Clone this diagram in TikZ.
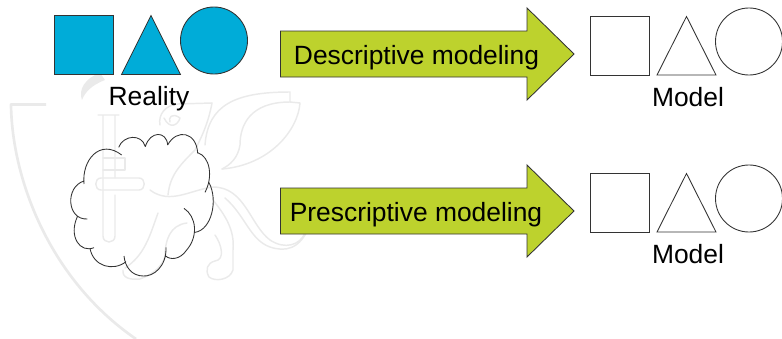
\documentclass[tikz,border=0pt]{standalone}
\usepackage{fontspec}
\setmainfont{Liberation Sans}
\definecolor{shapeblue}{HTML}{00ACD8}
\definecolor{arrowgreen}{HTML}{BDD22D}
\definecolor{wm}{HTML}{EAEAEA}
\definecolor{ink}{HTML}{333333}
\tikzset{
  x=0.75pt,y=-0.75pt,
  outline/.style={draw=ink,line width=0.65pt,line join=miter},
  bluefill/.style={outline,fill=shapeblue},
  bigarrow/.style={outline,fill=arrowgreen},
  blank/.style={outline,fill=white},
  mark line/.style={draw=wm,line width=1.1pt,line cap=round,line join=round},
  mark band/.style={draw=wm,line width=2pt,line join=round},
  lab/.style={font=\fontsize{19.8pt}{22pt}\selectfont,text=black,inner sep=0pt,anchor=base},
}
\begin{document}
\begin{tikzpicture}
\useasboundingbox (0,0) rectangle (782,339);
% watermark: shield
\draw[mark band] (46,104.5) -- (11,104.5) .. controls (12,180) and (50,280) .. (136,339);
% watermark: sword
\draw[mark line] (98,115) -- (119,115) (103,115) -- (103,236) .. controls (103,244) and (115,244) .. (115,236) -- (115,195)
  (115,178) -- (115,115);
\draw[mark line] (101,178) -- (139,178) .. controls (146,178) and (146,190) .. (139,190) -- (101,190) .. controls (94,190) and (94,178) .. (101,178);
\draw[mark line] (103,158) -- (125,158) -- (125,170) -- (103,170);
% watermark: flame
\fill[wm] (100,73) .. controls (85,78) and (78,90) .. (82,100) .. controls (85,92) and (92,85) .. (105,80) -- cycle;
% watermark: griffin head and neck
\draw[mark line] (160,125) .. controls (158,115) and (165,105) .. (178,104) -- (212,103)
  (164,118) .. controls (170,130) and (178,125) .. (180,118) .. controls (172,112) and (168,118) .. (170,122);
\draw[mark line] (212,103) .. controls (208,125) and (200,140) .. (195,150) .. controls (180,165) and (170,175) .. (168,195);
% watermark: wing
\draw[mark line] (205,145) .. controls (208,105) and (235,92) .. (290,92) -- (290,102) -- (300,103)
  .. controls (298,130) and (270,165) .. (222,169);
\draw[mark line] (290,102) .. controls (250,102) and (240,125) .. (240,145) .. controls (238,158) and (230,165) .. (222,169);
% watermark: body and tail
\draw[mark line] (150,190) .. controls (170,205) and (190,190) .. (213,187) .. controls (245,187) and (250,225) .. (270,240)
  .. controls (285,250) and (300,245) .. (305,233);
\draw[mark line] (225,198) .. controls (245,215) and (250,240) .. (270,247) .. controls (285,252) and (300,250) .. (310,225);
% watermark: legs
\draw[mark line] (187,223) .. controls (170,225) and (165,240) .. (165,257) .. controls (160,270) and (150,275) .. (140,279)
  .. controls (130,280) and (122,278) .. (123,270);
\draw[mark line] (158,213) .. controls (150,235) and (145,255) .. (125,268);
\draw[mark line] (213,200) .. controls (225,215) and (235,230) .. (233,250) -- (233,270) .. controls (230,280) and (215,282) .. (209,277)
  .. controls (205,270) and (207,263) .. (215,261) .. controls (225,260) and (222,245) .. (215,235);
% reality shapes
\draw[bluefill] (54,15.5) rectangle (113.5,74.5);
\draw[bluefill] (151,15.5) -- (180.5,74.5) -- (121.5,74.5) -- cycle;
\draw[bluefill] (214,40.5) circle [radius=33.5];
\node[lab] (reality) at (149,105) {Reality};
% cloud
\begin{scope}[x=0.25pt,y=-0.25pt]
\draw[outline,line join=round]
 (252,552) .. controls (245,480) and (300,415) .. (365,465)
 (356,442) .. controls (370,405) and (425,400) .. (436,440)
 (436,440) .. controls (450,392) and (500,392) .. (503,435)
 (503,435) .. controls (530,385) and (590,395) .. (593,460)
 (593,458) .. controls (630,470) and (640,530) .. (615,577)
 (627,548) .. controls (655,600) and (635,690) .. (585,697)
 (552,625) .. controls (590,650) and (595,710) .. (560,750) .. controls (540,780) and (510,780) .. (497,768)
 (498,742) .. controls (500,800) and (460,830) .. (430,828) .. controls (395,828) and (375,800) .. (372,768)
 (378,785) .. controls (340,815) and (280,800) .. (270,745)
 (282,743) .. controls (240,760) and (205,710) .. (232,650)
 (262,657) .. controls (200,660) and (195,560) .. (252,543);
\end{scope}
% arrows
\draw[bigarrow] (280.5,31) -- (527,31) -- (527,8) -- (574,54) -- (527,100) -- (527,77) -- (280.5,77) -- cycle;
\node[lab] (descr) at (416.5,64) {Descriptive modeling};
\draw[bigarrow] (280.5,188) -- (527,188) -- (527,165) -- (574,211) -- (527,257) -- (527,234) -- (280.5,234) -- cycle;
\node[lab] (presc) at (416,221) {Prescriptive modeling};
% model shapes
\foreach \dy/\nm in {0/modelone,157/modeltwo}{
  \begin{scope}[yshift={-0.75pt*\dy}]
  \draw[blank] (590,16) rectangle (649.5,75);
  \draw[blank] (686.5,16.5) -- (716,75) -- (657,75) -- cycle;
  \draw[blank] (749,41.5) circle [radius=33.5];
  \node[lab] (\nm) at (688,106) {Model};
  \end{scope}
}
\end{tikzpicture}
\end{document}
